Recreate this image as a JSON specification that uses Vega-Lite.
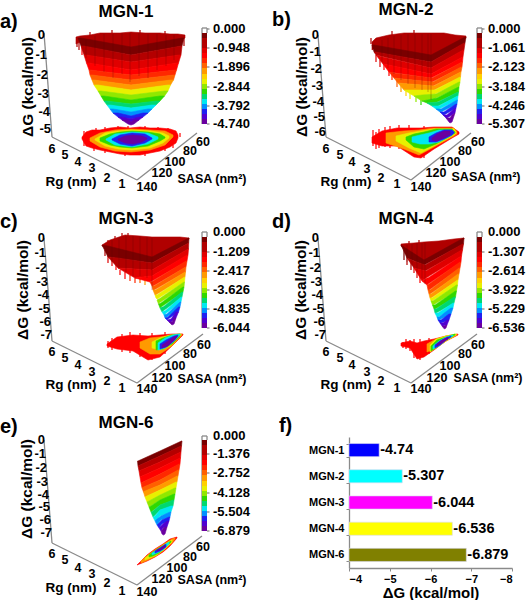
{"$schema":"https://vega.github.io/schema/vega-lite/v6.json","padding":0,"spacing":0,"columns":2,"bounds":"flush","background":"white","config":{"view":{"stroke":null},"text":{"font":"Liberation Sans","fontWeight":"bold","color":"#000"},"concat":{"spacing":0}},
"datasets":{
"cba":[{"l":0,"u":202,"p":207,"v":33,"w":38},{"l":1,"u":202,"p":207,"v":38,"w":43},{"l":2,"u":202,"p":207,"v":43,"w":48},{"l":3,"u":202,"p":207,"v":48,"w":53},{"l":4,"u":202,"p":207,"v":53,"w":58},{"l":5,"u":202,"p":207,"v":58,"w":63},{"l":6,"u":202,"p":207,"v":63,"w":68},{"l":7,"u":202,"p":207,"v":68,"w":74},{"l":8,"u":202,"p":207,"v":74,"w":79},{"l":9,"u":202,"p":207,"v":79,"w":84},{"l":10,"u":202,"p":207,"v":84,"w":89},{"l":11,"u":202,"p":207,"v":89,"w":94},{"l":12,"u":202,"p":207,"v":94,"w":99},{"l":13,"u":202,"p":207,"v":99,"w":104},{"l":14,"u":202,"p":207,"v":104,"w":109},{"l":15,"u":202,"p":207,"v":109,"w":114},{"l":16,"u":202,"p":207,"v":114,"w":119},{"l":17,"u":202,"p":207,"v":119,"w":124}],
"cbb":[{"l":0,"u":213,"p":218,"v":33,"w":38},{"l":1,"u":213,"p":218,"v":38,"w":43},{"l":2,"u":213,"p":218,"v":43,"w":48},{"l":3,"u":213,"p":218,"v":48,"w":53},{"l":4,"u":213,"p":218,"v":53,"w":58},{"l":5,"u":213,"p":218,"v":58,"w":63},{"l":6,"u":213,"p":218,"v":63,"w":68},{"l":7,"u":213,"p":218,"v":68,"w":74},{"l":8,"u":213,"p":218,"v":74,"w":79},{"l":9,"u":213,"p":218,"v":79,"w":84},{"l":10,"u":213,"p":218,"v":84,"w":89},{"l":11,"u":213,"p":218,"v":89,"w":94},{"l":12,"u":213,"p":218,"v":94,"w":99},{"l":13,"u":213,"p":218,"v":99,"w":104},{"l":14,"u":213,"p":218,"v":104,"w":109},{"l":15,"u":213,"p":218,"v":109,"w":114},{"l":16,"u":213,"p":218,"v":114,"w":119},{"l":17,"u":213,"p":218,"v":119,"w":124}],
"cbc":[{"l":0,"u":202,"p":207,"v":37,"w":42},{"l":1,"u":202,"p":207,"v":42,"w":47},{"l":2,"u":202,"p":207,"v":47,"w":52},{"l":3,"u":202,"p":207,"v":52,"w":57},{"l":4,"u":202,"p":207,"v":57,"w":62},{"l":5,"u":202,"p":207,"v":62,"w":67},{"l":6,"u":202,"p":207,"v":67,"w":72},{"l":7,"u":202,"p":207,"v":72,"w":78},{"l":8,"u":202,"p":207,"v":78,"w":83},{"l":9,"u":202,"p":207,"v":83,"w":88},{"l":10,"u":202,"p":207,"v":88,"w":93},{"l":11,"u":202,"p":207,"v":93,"w":98},{"l":12,"u":202,"p":207,"v":98,"w":103},{"l":13,"u":202,"p":207,"v":103,"w":108},{"l":14,"u":202,"p":207,"v":108,"w":113},{"l":15,"u":202,"p":207,"v":113,"w":118},{"l":16,"u":202,"p":207,"v":118,"w":123},{"l":17,"u":202,"p":207,"v":123,"w":128}],
"cbd":[{"l":0,"u":213,"p":218,"v":37,"w":42},{"l":1,"u":213,"p":218,"v":42,"w":47},{"l":2,"u":213,"p":218,"v":47,"w":52},{"l":3,"u":213,"p":218,"v":52,"w":57},{"l":4,"u":213,"p":218,"v":57,"w":62},{"l":5,"u":213,"p":218,"v":62,"w":67},{"l":6,"u":213,"p":218,"v":67,"w":72},{"l":7,"u":213,"p":218,"v":72,"w":78},{"l":8,"u":213,"p":218,"v":78,"w":83},{"l":9,"u":213,"p":218,"v":83,"w":88},{"l":10,"u":213,"p":218,"v":88,"w":93},{"l":11,"u":213,"p":218,"v":93,"w":98},{"l":12,"u":213,"p":218,"v":98,"w":103},{"l":13,"u":213,"p":218,"v":103,"w":108},{"l":14,"u":213,"p":218,"v":108,"w":113},{"l":15,"u":213,"p":218,"v":113,"w":118},{"l":16,"u":213,"p":218,"v":118,"w":123},{"l":17,"u":213,"p":218,"v":123,"w":128}],
"cbe":[{"l":0,"u":202,"p":207,"v":40,"w":45},{"l":1,"u":202,"p":207,"v":45,"w":50},{"l":2,"u":202,"p":207,"v":50,"w":55},{"l":3,"u":202,"p":207,"v":55,"w":60},{"l":4,"u":202,"p":207,"v":60,"w":65},{"l":5,"u":202,"p":207,"v":65,"w":70},{"l":6,"u":202,"p":207,"v":70,"w":75},{"l":7,"u":202,"p":207,"v":75,"w":81},{"l":8,"u":202,"p":207,"v":81,"w":86},{"l":9,"u":202,"p":207,"v":86,"w":91},{"l":10,"u":202,"p":207,"v":91,"w":96},{"l":11,"u":202,"p":207,"v":96,"w":101},{"l":12,"u":202,"p":207,"v":101,"w":106},{"l":13,"u":202,"p":207,"v":106,"w":111},{"l":14,"u":202,"p":207,"v":111,"w":116},{"l":15,"u":202,"p":207,"v":116,"w":121},{"l":16,"u":202,"p":207,"v":121,"w":126},{"l":17,"u":202,"p":207,"v":126,"w":131}],
"xa":[{"u":86,"v":40,"q":58},{"u":95,"v":36,"q":66},{"u":104,"v":34,"q":72},{"u":113,"v":34,"q":78},{"u":122,"v":33,"q":74},{"u":130,"v":33,"q":82},{"u":139,"v":33,"q":76},{"u":148,"v":34,"q":78},{"u":157,"v":34,"q":70},{"u":166,"v":35,"q":66},{"u":174,"v":35,"q":60}],
"xb":[{"u":118,"v":40,"q":62},{"u":124,"v":38,"q":68},{"u":130,"v":36,"q":74},{"u":137,"v":35,"q":80},{"u":144,"v":34,"q":84},{"u":151,"v":34,"q":88},{"u":158,"v":34,"q":90},{"u":164,"v":34,"q":92},{"u":167,"v":34,"q":100}],
"xc":[{"u":112,"v":40,"q":62},{"u":119,"v":37,"q":68},{"u":126,"v":36,"q":72},{"u":133,"v":36,"q":76},{"u":140,"v":37,"q":76},{"u":147,"v":37,"q":78},{"u":152,"v":38,"q":90}],
"xd":[{"u":143,"v":45,"q":62},{"u":148,"v":44,"q":66},{"u":153,"v":43,"q":72},{"u":158,"v":43,"q":78},{"u":161,"v":43,"q":84}],
"da":[{"l":1,"u":90,"v":32,"q":36},{"l":1,"u":112,"v":30,"q":35},{"l":1,"u":140,"v":30,"q":34},{"l":1,"u":165,"v":31,"q":36},{"l":1,"u":77,"v":37,"q":47},{"l":1,"u":79,"v":40,"q":50},{"l":1,"u":184,"v":37,"q":46},{"l":4,"u":82,"v":45,"q":55},{"l":4,"u":84,"v":131,"q":146},{"l":4,"u":96,"v":128,"q":131},{"l":4,"u":105,"v":127,"q":130},{"l":4,"u":118,"v":126,"q":129},{"l":4,"u":128,"v":126,"q":129},{"l":4,"u":145,"v":126,"q":129},{"l":4,"u":158,"v":127,"q":130},{"l":4,"u":168,"v":128,"q":131},{"l":4,"u":94,"v":148,"q":151},{"l":4,"u":105,"v":150,"q":153},{"l":4,"u":125,"v":153,"q":156},{"l":4,"u":145,"v":153,"q":156},{"l":4,"u":165,"v":148,"q":151},{"l":4,"u":173,"v":145,"q":148},{"l":4,"u":180,"v":133,"q":137}],
"db":[{"l":1,"u":107,"v":38,"q":44},{"l":1,"u":128,"v":31,"q":36},{"l":1,"u":150,"v":30,"q":35},{"l":3,"u":112,"v":55,"q":62},{"l":3,"u":116,"v":60,"q":67},{"l":4,"u":120,"v":64,"q":70},{"l":4,"u":125,"v":70,"q":76},{"l":5,"u":128,"v":72,"q":80},{"l":6,"u":133,"v":80,"q":87},{"l":7,"u":137,"v":85,"q":92},{"l":8,"u":142,"v":90,"q":96},{"l":9,"u":146,"v":92,"q":99},{"l":10,"u":152,"v":97,"q":102},{"l":11,"u":157,"v":100,"q":105},{"l":4,"u":109,"v":130,"q":146},{"l":4,"u":112,"v":132,"q":149},{"l":4,"u":115,"v":129,"q":148},{"l":4,"u":121,"v":127,"q":147},{"l":4,"u":126,"v":126,"q":148},{"l":4,"u":135,"v":125,"q":149},{"l":4,"u":145,"v":125,"q":153},{"l":4,"u":160,"v":126,"q":158}],
"dc":[{"l":1,"u":128,"v":33,"q":37},{"l":1,"u":122,"v":33,"q":37},{"l":1,"u":115,"v":36,"q":40},{"l":1,"u":108,"v":40,"q":44},{"l":2,"u":105,"v":50,"q":56},{"l":3,"u":108,"v":55,"q":63},{"l":3,"u":112,"v":60,"q":66},{"l":4,"u":116,"v":65,"q":70},{"l":4,"u":120,"v":70,"q":75},{"l":4,"u":125,"v":72,"q":79},{"l":5,"u":130,"v":75,"q":81},{"l":5,"u":135,"v":78,"q":83},{"l":6,"u":140,"v":78,"q":83},{"l":7,"u":145,"v":80,"q":85},{"l":4,"u":108,"v":141,"q":148},{"l":4,"u":112,"v":138,"q":150},{"l":4,"u":122,"v":134,"q":152},{"l":4,"u":130,"v":132,"q":153},{"l":4,"u":140,"v":133,"q":157},{"l":4,"u":152,"v":133,"q":160},{"l":4,"u":165,"v":132,"q":154}],
"dd":[{"l":1,"u":145,"v":41,"q":45},{"l":1,"u":155,"v":40,"q":44},{"l":0,"u":140,"v":50,"q":60},{"l":2,"u":143,"v":55,"q":65},{"l":2,"u":147,"v":62,"q":70},{"l":3,"u":150,"v":65,"q":73},{"l":3,"u":153,"v":70,"q":78},{"l":4,"u":156,"v":75,"q":83},{"l":4,"u":139,"v":142,"q":148},{"l":4,"u":142,"v":139,"q":149},{"l":4,"u":146,"v":140,"q":151},{"l":4,"u":150,"v":139,"q":158},{"l":4,"u":156,"v":139,"q":160},{"l":4,"u":165,"v":138,"q":154}],
"ra":[{"u":44,"v":33,"p":52,"q":137},{"u":52,"v":137,"p":137,"q":180},{"u":137,"v":180,"p":197,"q":133},{"u":202,"v":28,"p":207,"q":28},{"u":202,"v":28,"p":202,"q":124},{"u":207,"v":28,"p":207,"q":33},{"u":207,"v":29,"p":209.5,"q":29},{"u":207,"v":48,"p":209.5,"q":48},{"u":207,"v":67,"p":209.5,"q":67},{"u":207,"v":87,"p":209.5,"q":87},{"u":207,"v":106,"p":209.5,"q":106},{"u":207,"v":124,"p":209.5,"q":124}],
"rb":[{"u":54,"v":35,"p":62,"q":137},{"u":62,"v":137,"p":147,"q":180},{"u":147,"v":180,"p":207,"q":133},{"u":213,"v":28,"p":218,"q":28},{"u":213,"v":28,"p":213,"q":124},{"u":218,"v":28,"p":218,"q":33},{"u":218,"v":29,"p":220.5,"q":29},{"u":218,"v":48,"p":220.5,"q":48},{"u":218,"v":67,"p":220.5,"q":67},{"u":218,"v":87,"p":220.5,"q":87},{"u":218,"v":106,"p":220.5,"q":106},{"u":218,"v":124,"p":220.5,"q":124}],
"rc":[{"u":44,"v":38,"p":52,"q":141},{"u":52,"v":141,"p":137,"q":183},{"u":137,"v":183,"p":203,"q":134},{"u":202,"v":32,"p":207,"q":32},{"u":202,"v":32,"p":202,"q":128},{"u":207,"v":32,"p":207,"q":37},{"u":207,"v":52,"p":209.5,"q":52},{"u":207,"v":71,"p":209.5,"q":71},{"u":207,"v":90,"p":209.5,"q":90},{"u":207,"v":109,"p":209.5,"q":109},{"u":207,"v":128,"p":209.5,"q":128}],
"rd":[{"u":54,"v":38,"p":62,"q":141},{"u":62,"v":141,"p":147,"q":183},{"u":147,"v":183,"p":213,"q":134},{"u":213,"v":32,"p":218,"q":32},{"u":213,"v":32,"p":213,"q":128},{"u":218,"v":32,"p":218,"q":37},{"u":218,"v":52,"p":220.5,"q":52},{"u":218,"v":71,"p":220.5,"q":71},{"u":218,"v":90,"p":220.5,"q":90},{"u":218,"v":109,"p":220.5,"q":109},{"u":218,"v":128,"p":220.5,"q":128}],
"re":[{"u":44,"v":40,"p":52,"q":143},{"u":52,"v":143,"p":137,"q":185},{"u":137,"v":185,"p":202,"q":136},{"u":202,"v":36,"p":207,"q":36},{"u":202,"v":36,"p":202,"q":131},{"u":207,"v":36,"p":207,"q":40},{"u":207,"v":54,"p":209.5,"q":54},{"u":207,"v":73,"p":209.5,"q":73},{"u":207,"v":93,"p":209.5,"q":93},{"u":207,"v":112,"p":209.5,"q":112},{"u":207,"v":131,"p":209.5,"q":131}],
"sa":[{"l":1,"u":76,"v":37,"w":44},{"l":1,"u":80,"v":36,"w":42},{"l":1,"u":90,"v":35,"w":44},{"l":1,"u":100,"v":33,"w":46},{"l":1,"u":110,"v":33,"w":46},{"l":1,"u":120,"v":33,"w":47},{"l":1,"u":131,"v":32,"w":47},{"l":1,"u":145,"v":33,"w":47},{"l":1,"u":160,"v":33,"w":45},{"l":1,"u":170,"v":34,"w":42},{"l":1,"u":178,"v":34,"w":40},{"l":1,"u":185,"v":35,"w":38},
{"l":0,"u":78,"v":38,"w":38},{"l":0,"u":81,"v":38,"w":46},{"l":0,"u":131,"v":47,"w":55},{"l":0,"u":182,"v":38,"w":46},{"l":0,"u":184,"v":38,"w":38},
{"l":2,"u":81,"v":46,"w":46},{"l":2,"u":84,"v":46,"w":55},{"l":2,"u":131,"v":55,"w":62},{"l":2,"u":181,"v":46,"w":55},{"l":2,"u":182,"v":46,"w":46},
{"l":3,"u":84,"v":55,"w":55},{"l":3,"u":86.5,"v":55,"w":63},{"l":3,"u":131,"v":62,"w":70},{"l":3,"u":178.5,"v":55,"w":63},{"l":3,"u":181,"v":55,"w":55},
{"l":4,"u":86.5,"v":63,"w":63},{"l":4,"u":89,"v":63,"w":70},{"l":4,"u":131,"v":70,"w":75},{"l":4,"u":176.5,"v":63,"w":70},{"l":4,"u":178.5,"v":63,"w":63},
{"l":5,"u":89,"v":70,"w":70},{"l":5,"u":90,"v":70,"w":75},{"l":5,"u":131,"v":75,"w":80},{"l":5,"u":175,"v":70,"w":75},{"l":5,"u":176.5,"v":70,"w":70},
{"l":6,"u":90,"v":75,"w":75},{"l":6,"u":92,"v":75,"w":80},{"l":6,"u":131,"v":80,"w":85},{"l":6,"u":173.5,"v":75,"w":80},{"l":6,"u":175,"v":75,"w":75},
{"l":7,"u":92,"v":80,"w":80},{"l":7,"u":94,"v":80,"w":85},{"l":7,"u":131,"v":85,"w":90},{"l":7,"u":170.5,"v":80,"w":85},{"l":7,"u":173.5,"v":80,"w":80},
{"l":9,"u":94,"v":85,"w":85},{"l":9,"u":98,"v":85,"w":91},{"l":9,"u":131,"v":90,"w":95},{"l":9,"u":168,"v":85,"w":91},{"l":9,"u":170.5,"v":85,"w":85},
{"l":10,"u":98,"v":91,"w":91},{"l":10,"u":101,"v":91,"w":96},{"l":10,"u":131,"v":95,"w":100},{"l":10,"u":164.5,"v":91,"w":96},{"l":10,"u":168,"v":91,"w":91},
{"l":11,"u":101,"v":96,"w":96},{"l":11,"u":104,"v":96,"w":101},{"l":11,"u":131,"v":100,"w":104},{"l":11,"u":160,"v":96,"w":101},{"l":11,"u":164.5,"v":96,"w":96},
{"l":12,"u":104,"v":101,"w":101},{"l":12,"u":107,"v":101,"w":105},{"l":12,"u":131,"v":104,"w":108},{"l":12,"u":156,"v":101,"w":105},{"l":12,"u":160,"v":101,"w":101},
{"l":13,"u":107,"v":105,"w":105},{"l":13,"u":110,"v":105,"w":109},{"l":13,"u":131,"v":108,"w":112},{"l":13,"u":152,"v":105,"w":109},{"l":13,"u":156,"v":105,"w":105},
{"l":14,"u":110,"v":109,"w":109},{"l":14,"u":113,"v":109,"w":113},{"l":14,"u":131,"v":112,"w":116},{"l":14,"u":148,"v":109,"w":113},{"l":14,"u":152,"v":109,"w":109},
{"l":15,"u":113,"v":113,"w":113},{"l":15,"u":118,"v":113,"w":117},{"l":15,"u":131,"v":116,"w":119},{"l":15,"u":143,"v":113,"w":117},{"l":15,"u":148,"v":113,"w":113},
{"l":16,"u":118,"v":117,"w":117},{"l":16,"u":122,"v":117,"w":120},{"l":16,"u":131,"v":119,"w":122},{"l":16,"u":139,"v":117,"w":120},{"l":16,"u":143,"v":117,"w":117},
{"l":17,"u":122,"v":120,"w":120},{"l":17,"u":128,"v":120,"w":124},{"l":17,"u":131,"v":122,"w":125},{"l":17,"u":134,"v":120,"w":124},{"l":17,"u":139,"v":120,"w":120}],
"sb":[{"l":1,"u":108,"v":42,"w":50},{"l":1,"u":112,"v":38,"w":47},{"l":1,"u":125,"v":35,"w":50},{"l":1,"u":140,"v":33,"w":53},{"l":1,"u":155,"v":33,"w":54},{"l":1,"u":167,"v":33,"w":56},{"l":1,"u":180,"v":33,"w":51},{"l":1,"u":191,"v":35,"w":46},{"l":1,"u":202,"v":36,"w":38},
{"l":0,"u":108,"v":45,"w":45},{"l":0,"u":110,"v":45,"w":52},{"l":0,"u":167,"v":55,"w":62},{"l":0,"u":201,"v":37,"w":43},{"l":0,"u":202,"v":37,"w":37},
{"l":2,"u":110,"v":52,"w":52},{"l":2,"u":112,"v":52,"w":55},{"l":2,"u":167,"v":62,"w":68},{"l":2,"u":200,"v":43,"w":50},{"l":2,"u":201,"v":43,"w":43},
{"l":3,"u":112,"v":55,"w":55},{"l":3,"u":119,"v":57,"w":64},{"l":3,"u":167,"v":68,"w":74},{"l":3,"u":199,"v":50,"w":57},{"l":3,"u":200,"v":50,"w":50},
{"l":4,"u":119,"v":64,"w":64},{"l":4,"u":125,"v":65,"w":72},{"l":4,"u":167,"v":74,"w":78},{"l":4,"u":198.5,"v":57,"w":62},{"l":4,"u":199,"v":57,"w":57},
{"l":5,"u":125,"v":72,"w":72},{"l":5,"u":130,"v":73,"w":78},{"l":5,"u":168,"v":78,"w":82},{"l":5,"u":198,"v":62,"w":67},{"l":5,"u":198.5,"v":62,"w":62},
{"l":6,"u":130,"v":78,"w":78},{"l":6,"u":134,"v":78.5,"w":83},{"l":6,"u":169,"v":82,"w":86},{"l":6,"u":197,"v":67,"w":72},{"l":6,"u":198,"v":67,"w":67},
{"l":7,"u":134,"v":83,"w":83},{"l":7,"u":140,"v":83.5,"w":90},{"l":7,"u":170,"v":86,"w":90},{"l":7,"u":196.5,"v":72,"w":77},{"l":7,"u":197,"v":72,"w":72},
{"l":9,"u":140,"v":90,"w":90},{"l":9,"u":150,"v":90,"w":96},{"l":9,"u":171,"v":90,"w":94},{"l":9,"u":196,"v":77,"w":82},{"l":9,"u":196.5,"v":77,"w":77},
{"l":10,"u":150,"v":96,"w":96},{"l":10,"u":158,"v":95,"w":101},{"l":10,"u":172,"v":94,"w":98},{"l":10,"u":195,"v":82,"w":87},{"l":10,"u":196,"v":82,"w":82},
{"l":11,"u":158,"v":101,"w":101},{"l":11,"u":163,"v":100,"w":103},{"l":11,"u":173,"v":98,"w":102},{"l":11,"u":194.5,"v":87,"w":92},{"l":11,"u":195,"v":87,"w":87},
{"l":12,"u":163,"v":103,"w":103},{"l":12,"u":168,"v":102.5,"w":106},{"l":12,"u":174,"v":102,"w":106},{"l":12,"u":194,"v":92,"w":96},{"l":12,"u":194.5,"v":92,"w":92},
{"l":13,"u":168,"v":106,"w":106},{"l":13,"u":172,"v":106,"w":109},{"l":13,"u":175,"v":106,"w":109},{"l":13,"u":193.5,"v":96,"w":100},{"l":13,"u":194,"v":96,"w":96},
{"l":14,"u":172,"v":109,"w":109},{"l":14,"u":176,"v":109,"w":112},{"l":14,"u":177,"v":109,"w":112},{"l":14,"u":193,"v":100,"w":104},{"l":14,"u":193.5,"v":100,"w":100},
{"l":15,"u":176,"v":112,"w":112},{"l":15,"u":179,"v":112,"w":115},{"l":15,"u":180,"v":112,"w":115},{"l":15,"u":192,"v":104,"w":108},{"l":15,"u":193,"v":104,"w":104},
{"l":16,"u":179,"v":115,"w":115},{"l":16,"u":182,"v":115,"w":118},{"l":16,"u":183,"v":115,"w":118},{"l":16,"u":191,"v":108,"w":113},{"l":16,"u":192,"v":108,"w":108},
{"l":17,"u":182,"v":118,"w":118},{"l":17,"u":185,"v":118,"w":122},{"l":17,"u":186,"v":118,"w":123},{"l":17,"u":188,"v":115,"w":122},{"l":17,"u":191,"v":113,"w":113}],
"sc":[{"l":1,"u":102,"v":45,"w":46},{"l":1,"u":110,"v":40,"w":49},{"l":1,"u":125,"v":35,"w":53},{"l":1,"u":140,"v":36,"w":55},{"l":1,"u":152,"v":37,"w":58},{"l":1,"u":165,"v":37,"w":53},{"l":1,"u":180,"v":37,"w":46},{"l":1,"u":189,"v":38,"w":39},
{"l":0,"u":102,"v":45,"w":45},{"l":0,"u":108,"v":46,"w":57},{"l":0,"u":152,"v":57,"w":63},{"l":0,"u":188.7,"v":38,"w":43},{"l":0,"u":189,"v":38,"w":38},
{"l":2,"u":108,"v":57,"w":57},{"l":2,"u":118,"v":58,"w":68},{"l":2,"u":152,"v":63,"w":70},{"l":2,"u":188.5,"v":43,"w":49},{"l":2,"u":188.7,"v":43,"w":43},
{"l":3,"u":118,"v":68,"w":68},{"l":3,"u":135,"v":69,"w":78},{"l":3,"u":152,"v":70,"w":76},{"l":3,"u":188,"v":49,"w":55},{"l":3,"u":188.5,"v":49,"w":49},
{"l":4,"u":135,"v":78,"w":78},{"l":4,"u":150,"v":76,"w":82},{"l":4,"u":152,"v":76,"w":81},{"l":4,"u":187,"v":55,"w":61},{"l":4,"u":188,"v":55,"w":55},
{"l":5,"u":150,"v":82,"w":82},{"l":5,"u":152,"v":81.5,"w":86},{"l":5,"u":153,"v":81,"w":86},{"l":5,"u":186,"v":61,"w":67},{"l":5,"u":187,"v":61,"w":61},
{"l":6,"u":152,"v":86,"w":86},{"l":6,"u":153,"v":86,"w":90},{"l":6,"u":154,"v":86,"w":90},{"l":6,"u":185.5,"v":67,"w":72},{"l":6,"u":186,"v":67,"w":67},
{"l":7,"u":153,"v":90,"w":90},{"l":7,"u":155,"v":90,"w":95},{"l":7,"u":155.5,"v":90,"w":95},{"l":7,"u":185,"v":72,"w":77},{"l":7,"u":185.5,"v":72,"w":72},
{"l":9,"u":155,"v":95,"w":95},{"l":9,"u":156,"v":95,"w":98},{"l":9,"u":157,"v":95,"w":99},{"l":9,"u":184.5,"v":77,"w":82},{"l":9,"u":185,"v":77,"w":77},
{"l":10,"u":157,"v":100,"w":100},{"l":10,"u":158.5,"v":99,"w":104},{"l":10,"u":159,"v":99,"w":103},{"l":10,"u":184,"v":82,"w":87},{"l":10,"u":184.5,"v":82,"w":82},
{"l":11,"u":158.5,"v":104,"w":104},{"l":11,"u":160,"v":103.5,"w":108},{"l":11,"u":161,"v":103,"w":107},{"l":11,"u":183,"v":87,"w":92},{"l":11,"u":184,"v":87,"w":87},
{"l":12,"u":160,"v":108,"w":108},{"l":12,"u":162,"v":107,"w":112},{"l":12,"u":163,"v":107,"w":111},{"l":12,"u":182,"v":92,"w":97},{"l":12,"u":183,"v":92,"w":92},
{"l":13,"u":162,"v":112,"w":112},{"l":13,"u":164,"v":111,"w":115},{"l":13,"u":165,"v":111,"w":114},{"l":13,"u":181,"v":97,"w":102},{"l":13,"u":182,"v":97,"w":97},
{"l":14,"u":164,"v":115,"w":115},{"l":14,"u":165,"v":114.5,"w":118},{"l":14,"u":167,"v":114,"w":117},{"l":14,"u":180,"v":102,"w":107},{"l":14,"u":181,"v":102,"w":102},
{"l":15,"u":165,"v":118,"w":118},{"l":15,"u":167,"v":117.5,"w":120},{"l":15,"u":168,"v":117,"w":119},{"l":15,"u":178.5,"v":107,"w":112},{"l":15,"u":180,"v":107,"w":107},
{"l":16,"u":167,"v":120,"w":120},{"l":16,"u":169,"v":119.5,"w":122},{"l":16,"u":171,"v":119,"w":122},{"l":16,"u":176,"v":112,"w":118},{"l":16,"u":178.5,"v":112,"w":112},
{"l":17,"u":169,"v":122,"w":122},{"l":17,"u":171,"v":122,"w":124},{"l":17,"u":172,"v":122,"w":125},{"l":17,"u":174,"v":118,"w":124},{"l":17,"u":176,"v":118,"w":118}],
"sd":[{"l":1,"u":137,"v":44,"w":46},{"l":1,"u":143,"v":43.5,"w":51},{"l":1,"u":150,"v":43,"w":56},{"l":1,"u":160,"v":42,"w":62},{"l":1,"u":175,"v":41,"w":54},{"l":1,"u":190,"v":39,"w":46},{"l":1,"u":200,"v":38,"w":39},
{"l":0,"u":137,"v":45,"w":45},{"l":0,"u":143,"v":49,"w":58},{"l":0,"u":160,"v":60,"w":65},{"l":0,"u":199.5,"v":38,"w":44},{"l":0,"u":200,"v":38,"w":38},
{"l":2,"u":143,"v":58,"w":58},{"l":2,"u":150,"v":61,"w":68},{"l":2,"u":161,"v":65,"w":71},{"l":2,"u":198.5,"v":44,"w":50},{"l":2,"u":199.5,"v":44,"w":44},
{"l":3,"u":150,"v":68,"w":68},{"l":3,"u":158,"v":70,"w":81},{"l":3,"u":162,"v":71,"w":78},{"l":3,"u":197.5,"v":50,"w":56},{"l":3,"u":198.5,"v":50,"w":50},
{"l":4,"u":158,"v":81,"w":81},{"l":4,"u":163,"v":78,"w":85},{"l":4,"u":164,"v":78,"w":84},{"l":4,"u":197,"v":56,"w":62},{"l":4,"u":197.5,"v":56,"w":56},
{"l":5,"u":163,"v":85,"w":85},{"l":5,"u":164,"v":84.5,"w":90},{"l":5,"u":165,"v":84,"w":90},{"l":5,"u":196,"v":62,"w":68},{"l":5,"u":197,"v":62,"w":62},
{"l":6,"u":164,"v":90,"w":90},{"l":6,"u":165,"v":90,"w":94},{"l":6,"u":166,"v":90,"w":94},{"l":6,"u":195,"v":68,"w":74},{"l":6,"u":196,"v":68,"w":68},
{"l":7,"u":165,"v":94,"w":94},{"l":7,"u":166,"v":94,"w":98},{"l":7,"u":167,"v":94,"w":98},{"l":7,"u":194,"v":74,"w":80},{"l":7,"u":195,"v":74,"w":74},
{"l":9,"u":166,"v":98,"w":98},{"l":9,"u":167,"v":98,"w":101},{"l":9,"u":168,"v":98,"w":101},{"l":9,"u":193.5,"v":80,"w":85},{"l":9,"u":194,"v":80,"w":80},
{"l":10,"u":167,"v":101,"w":101},{"l":10,"u":168.5,"v":101,"w":105},{"l":10,"u":169,"v":101,"w":105},{"l":10,"u":192.5,"v":85,"w":91},{"l":10,"u":193.5,"v":85,"w":85},
{"l":11,"u":168.5,"v":105,"w":105},{"l":11,"u":170,"v":105,"w":109},{"l":11,"u":171,"v":105,"w":109},{"l":11,"u":191.5,"v":91,"w":97},{"l":11,"u":192.5,"v":91,"w":91},
{"l":12,"u":170,"v":109,"w":109},{"l":12,"u":171,"v":109,"w":113},{"l":12,"u":172,"v":109,"w":113},{"l":12,"u":190,"v":97,"w":103},{"l":12,"u":191.5,"v":97,"w":97},
{"l":13,"u":171,"v":113,"w":113},{"l":13,"u":173,"v":113,"w":117},{"l":13,"u":174,"v":113,"w":117},{"l":13,"u":189,"v":103,"w":108},{"l":13,"u":190,"v":103,"w":103},
{"l":14,"u":173,"v":117,"w":117},{"l":14,"u":174,"v":117,"w":120},{"l":14,"u":175,"v":117,"w":120},{"l":14,"u":187,"v":108,"w":114},{"l":14,"u":189,"v":108,"w":108},
{"l":15,"u":174,"v":120,"w":120},{"l":15,"u":176,"v":120,"w":123},{"l":15,"u":177,"v":120,"w":123},{"l":15,"u":185,"v":114,"w":120},{"l":15,"u":187,"v":114,"w":114},
{"l":16,"u":176,"v":123,"w":123},{"l":16,"u":178,"v":123,"w":126},{"l":16,"u":179,"v":123,"w":126},{"l":16,"u":183,"v":120,"w":125},{"l":16,"u":185,"v":120,"w":120},
{"l":17,"u":178,"v":126,"w":126},{"l":17,"u":179.5,"v":126,"w":128},{"l":17,"u":180.5,"v":126,"w":129},{"l":17,"u":182,"v":125,"w":128},{"l":17,"u":183,"v":125,"w":125}],
"se":[{"l":0,"u":137.5,"v":61,"w":61},{"l":0,"u":138,"v":61,"w":66},{"l":0,"u":160,"v":51,"w":56},{"l":0,"u":181.5,"v":41,"w":46},{"l":0,"u":182,"v":41,"w":41},
{"l":2,"u":138,"v":66,"w":66},{"l":2,"u":139,"v":65.5,"w":71},{"l":2,"u":160,"v":56,"w":62},{"l":2,"u":181,"v":46,"w":52},{"l":2,"u":181.5,"v":46,"w":46},
{"l":3,"u":139,"v":71,"w":71},{"l":3,"u":140,"v":70.5,"w":77},{"l":3,"u":160,"v":62,"w":68},{"l":3,"u":180.5,"v":52,"w":58},{"l":3,"u":181,"v":52,"w":52},
{"l":4,"u":140,"v":77,"w":77},{"l":4,"u":141,"v":76.5,"w":83},{"l":4,"u":160,"v":68,"w":74},{"l":4,"u":180,"v":58,"w":64},{"l":4,"u":180.5,"v":58,"w":58},
{"l":5,"u":141,"v":83,"w":83},{"l":5,"u":142,"v":82.5,"w":88},{"l":5,"u":160,"v":74,"w":80},{"l":5,"u":179,"v":64,"w":70},{"l":5,"u":180,"v":64,"w":64},
{"l":6,"u":142,"v":88,"w":88},{"l":6,"u":143.5,"v":87,"w":92},{"l":6,"u":160,"v":80,"w":85},{"l":6,"u":178,"v":70,"w":76},{"l":6,"u":179,"v":70,"w":70},
{"l":7,"u":143.5,"v":92,"w":92},{"l":7,"u":145,"v":91,"w":97},{"l":7,"u":160,"v":85,"w":90},{"l":7,"u":177,"v":76,"w":82},{"l":7,"u":178,"v":76,"w":76},
{"l":9,"u":145,"v":97,"w":97},{"l":9,"u":147,"v":96,"w":102},{"l":9,"u":160,"v":90,"w":95},{"l":9,"u":176,"v":82,"w":88},{"l":9,"u":177,"v":82,"w":82},
{"l":10,"u":147,"v":102,"w":102},{"l":10,"u":149,"v":101,"w":107},{"l":10,"u":160,"v":95,"w":100},{"l":10,"u":175,"v":88,"w":94},{"l":10,"u":176,"v":88,"w":88},
{"l":11,"u":149,"v":107,"w":107},{"l":11,"u":151,"v":106,"w":112},{"l":11,"u":160,"v":100,"w":105},{"l":11,"u":174,"v":94,"w":100},{"l":11,"u":175,"v":94,"w":94},
{"l":12,"u":151,"v":112,"w":112},{"l":12,"u":153,"v":111,"w":117},{"l":12,"u":160,"v":105,"w":110},{"l":12,"u":173,"v":100,"w":106},{"l":12,"u":174,"v":100,"w":100},
{"l":13,"u":153,"v":117,"w":117},{"l":13,"u":155,"v":116,"w":121},{"l":13,"u":160,"v":110,"w":116},{"l":13,"u":171,"v":106,"w":112},{"l":13,"u":173,"v":106,"w":106},
{"l":14,"u":155,"v":121,"w":121},{"l":14,"u":157,"v":119,"w":125},{"l":14,"u":161,"v":116,"w":120},{"l":14,"u":170,"v":112,"w":117},{"l":14,"u":171,"v":112,"w":112},
{"l":15,"u":157,"v":125,"w":125},{"l":15,"u":159,"v":123,"w":128},{"l":15,"u":162,"v":120,"w":124},{"l":15,"u":169,"v":117,"w":121},{"l":15,"u":170,"v":117,"w":117},
{"l":16,"u":159,"v":128,"w":128},{"l":16,"u":161,"v":126,"w":131},{"l":16,"u":163,"v":124,"w":128},{"l":16,"u":167,"v":121,"w":127},{"l":16,"u":169,"v":121,"w":121},
{"l":17,"u":161,"v":131,"w":131},{"l":17,"u":162,"v":130,"w":134},{"l":17,"u":163.5,"v":128,"w":135},{"l":17,"u":165,"v":127,"w":134},{"l":17,"u":167,"v":127,"w":127}],
"fa":[{"l":4,"u":82,"v":137,"w":139},{"l":4,"u":86,"v":132,"w":146},{"l":4,"u":92,"v":130,"w":148},{"l":4,"u":100,"v":130,"w":150},{"l":4,"u":110,"v":128,"w":152},{"l":4,"u":120,"v":127,"w":154},{"l":4,"u":130,"v":128,"w":155},{"l":4,"u":140,"v":127,"w":155},{"l":4,"u":150,"v":128,"w":153},{"l":4,"u":160,"v":128,"w":151},{"l":4,"u":170,"v":129,"w":147},{"l":4,"u":176,"v":131,"w":143},{"l":4,"u":178,"v":135,"w":138},
{"l":7,"u":90,"v":138,"w":141},{"l":7,"u":100,"v":133,"w":147},{"l":7,"u":115,"v":130,"w":151},{"l":7,"u":131,"v":129,"w":152},{"l":7,"u":150,"v":130,"w":150},{"l":7,"u":165,"v":131,"w":145},{"l":7,"u":173,"v":135,"w":137},
{"l":9,"u":95,"v":139,"w":140},{"l":9,"u":105,"v":133,"w":146},{"l":9,"u":118,"v":131,"w":149},{"l":9,"u":132,"v":130,"w":150},{"l":9,"u":150,"v":131,"w":148},{"l":9,"u":163,"v":133,"w":143},{"l":9,"u":169,"v":136,"w":138},
{"l":11,"u":100,"v":138,"w":141},{"l":11,"u":110,"v":134,"w":145},{"l":11,"u":120,"v":132,"w":147},{"l":11,"u":132,"v":131,"w":148},{"l":11,"u":148,"v":132,"w":146},{"l":11,"u":160,"v":134,"w":141},{"l":11,"u":165,"v":137,"w":138},
{"l":13,"u":106,"v":139,"w":140},{"l":13,"u":115,"v":134,"w":145},{"l":13,"u":132,"v":132,"w":147},{"l":13,"u":148,"v":133,"w":144},{"l":13,"u":158,"v":137,"w":139},
{"l":15,"u":112,"v":139,"w":140},{"l":15,"u":120,"v":135,"w":144},{"l":15,"u":132,"v":133,"w":146},{"l":15,"u":145,"v":134,"w":143},{"l":15,"u":152,"v":138,"w":139},
{"l":17,"u":118,"v":139,"w":140},{"l":17,"u":125,"v":136,"w":143},{"l":17,"u":133,"v":135,"w":144},{"l":17,"u":142,"v":136,"w":142},{"l":17,"u":147,"v":138,"w":139}],
"fb":[{"l":4,"u":108,"v":137,"w":143},{"l":4,"u":118,"v":131,"w":146},{"l":4,"u":133,"v":128,"w":146},{"l":4,"u":150,"v":128,"w":157},{"l":4,"u":157,"v":128,"w":158},{"l":4,"u":170,"v":127,"w":149},{"l":4,"u":188,"v":127,"w":138},{"l":4,"u":195,"v":132,"w":134},
{"l":7,"u":122,"v":133,"w":143},{"l":7,"u":140,"v":131,"w":149},{"l":7,"u":155,"v":130,"w":155},{"l":7,"u":170,"v":128,"w":147},{"l":7,"u":190,"v":128,"w":136},{"l":7,"u":193,"v":132,"w":134},
{"l":9,"u":132,"v":136,"w":141},{"l":9,"u":145,"v":133,"w":148},{"l":9,"u":157,"v":131,"w":153},{"l":9,"u":170,"v":129,"w":146},{"l":9,"u":190,"v":129,"w":135},{"l":9,"u":192,"v":132,"w":133},
{"l":11,"u":142,"v":137,"w":140},{"l":11,"u":150,"v":134,"w":147},{"l":11,"u":160,"v":132,"w":149},{"l":11,"u":172,"v":129,"w":144},{"l":11,"u":188,"v":129,"w":135},{"l":11,"u":191,"v":132,"w":133},
{"l":13,"u":148,"v":137,"w":142},{"l":13,"u":156,"v":135,"w":144},{"l":13,"u":165,"v":133,"w":144},{"l":13,"u":175,"v":130,"w":142},{"l":13,"u":188,"v":130,"w":135},{"l":13,"u":190,"v":132,"w":133},
{"l":15,"u":165,"v":137,"w":142},{"l":15,"u":172,"v":133,"w":142},{"l":15,"u":180,"v":130,"w":139},{"l":15,"u":188,"v":130,"w":135},{"l":15,"u":190,"v":132,"w":133},
{"l":17,"u":168,"v":138,"w":140},{"l":17,"u":173,"v":134,"w":141},{"l":17,"u":180,"v":131,"w":138},{"l":17,"u":186,"v":131,"w":135}],
"fc":[{"l":4,"u":107,"v":144,"w":146},{"l":4,"u":117,"v":137,"w":149},{"l":4,"u":133,"v":135,"w":151},{"l":4,"u":148,"v":136,"w":160},{"l":4,"u":160,"v":135,"w":157},{"l":4,"u":172,"v":134,"w":146},{"l":4,"u":183,"v":134,"w":135},
{"l":7,"u":140,"v":142,"w":148},{"l":7,"u":150,"v":138,"w":154},{"l":7,"u":160,"v":137,"w":154},{"l":7,"u":172,"v":135,"w":146},{"l":7,"u":182,"v":134,"w":135},
{"l":9,"u":152,"v":142,"w":148},{"l":9,"u":160,"v":138,"w":150},{"l":9,"u":170,"v":135,"w":146},{"l":9,"u":181,"v":134,"w":135},
{"l":11,"u":156,"v":141,"w":150},{"l":11,"u":163,"v":138,"w":149},{"l":11,"u":172,"v":135,"w":144},{"l":11,"u":180,"v":134,"w":136},
{"l":13,"u":158,"v":143,"w":150},{"l":13,"u":165,"v":138,"w":148},{"l":13,"u":173,"v":135,"w":142},{"l":13,"u":180,"v":134,"w":135},
{"l":15,"u":160,"v":144,"w":149},{"l":15,"u":166,"v":140,"w":147},{"l":15,"u":174,"v":136,"w":141},{"l":15,"u":178,"v":135,"w":136},
{"l":17,"u":162,"v":145,"w":148},{"l":17,"u":168,"v":141,"w":146},{"l":17,"u":174,"v":137,"w":140},{"l":17,"u":177,"v":136,"w":137}],
"fd":[{"l":4,"u":137,"v":143,"w":146},{"l":4,"u":146,"v":141,"w":148},{"l":4,"u":153,"v":143,"w":159},{"l":4,"u":160,"v":141,"w":157},{"l":4,"u":170,"v":139,"w":150},{"l":4,"u":182,"v":136,"w":141},{"l":4,"u":194,"v":134,"w":135},
{"l":7,"u":163,"v":144,"w":152},{"l":7,"u":170,"v":140,"w":149},{"l":7,"u":182,"v":136,"w":141},{"l":7,"u":193,"v":134,"w":135},
{"l":9,"u":166,"v":145,"w":152},{"l":9,"u":172,"v":139,"w":148},{"l":9,"u":182,"v":136,"w":141},{"l":9,"u":192,"v":134,"w":135},
{"l":11,"u":167,"v":146,"w":151},{"l":11,"u":173,"v":140,"w":147},{"l":11,"u":182,"v":137,"w":140},{"l":11,"u":191,"v":134,"w":135},
{"l":13,"u":169,"v":146,"w":149},{"l":13,"u":175,"v":141,"w":146},{"l":13,"u":182,"v":137,"w":140},{"l":13,"u":189,"v":135,"w":136},
{"l":15,"u":171,"v":145,"w":148},{"l":15,"u":176,"v":141,"w":145},{"l":15,"u":182,"v":138,"w":140},{"l":15,"u":187,"v":136,"w":137},
{"l":17,"u":173,"v":144,"w":146},{"l":17,"u":178,"v":140,"w":143},{"l":17,"u":184,"v":137,"w":139}],
"fe":[{"l":4,"u":137,"v":165,"w":165},{"l":4,"u":147,"v":155,"w":161},{"l":4,"u":155,"v":149,"w":157},{"l":4,"u":163,"v":144,"w":152},{"l":4,"u":170,"v":139,"w":146},{"l":4,"u":177,"v":137,"w":138},
{"l":7,"u":141,"v":161,"w":163},{"l":7,"u":148,"v":155,"w":160},{"l":7,"u":156,"v":149,"w":156},{"l":7,"u":164,"v":144,"w":150},{"l":7,"u":172,"v":139,"w":143},{"l":7,"u":175,"v":138,"w":139},
{"l":9,"u":145,"v":158,"w":160},{"l":9,"u":150,"v":154,"w":158},{"l":9,"u":157,"v":150,"w":155},{"l":9,"u":165,"v":144,"w":149},{"l":9,"u":172,"v":140,"w":142},
{"l":11,"u":149,"v":155,"w":157},{"l":11,"u":153,"v":152,"w":156},{"l":11,"u":159,"v":148,"w":153},{"l":11,"u":166,"v":144,"w":147},{"l":11,"u":171,"v":141,"w":142},
{"l":13,"u":152,"v":153,"w":155},{"l":13,"u":157,"v":150,"w":153},{"l":13,"u":163,"v":146,"w":150},{"l":13,"u":169,"v":142,"w":144},
{"l":15,"u":155,"v":151,"w":153},{"l":15,"u":160,"v":148,"w":151},{"l":15,"u":166,"v":144,"w":147},
{"l":17,"u":157,"v":150,"w":151},{"l":17,"u":161,"v":148,"w":150},{"l":17,"u":165,"v":145,"w":147}],
"ta":[{"k":"T","t":"MGN-1","u":126,"v":12},{"k":"L","t":"a)","u":0,"v":22},{"k":"D","t":"ΔG (kcal/mol)","u":28,"v":87},{"k":"a","t":"Rg (nm)","u":71,"v":182},{"k":"s","t":"SASA (nm²)","u":212,"v":179},
{"k":"y","t":"0","u":45,"v":35},{"k":"y","t":"-1","u":47,"v":55},{"k":"y","t":"-2","u":48,"v":75},{"k":"y","t":"-3","u":49,"v":94},{"k":"y","t":"-4","u":50,"v":112},{"k":"y","t":"-5","u":51,"v":129},
{"k":"f","t":"6","u":52,"v":149},{"k":"f","t":"5","u":65,"v":155},{"k":"f","t":"4","u":78,"v":162},{"k":"f","t":"3","u":92,"v":168},{"k":"f","t":"2","u":107,"v":178},{"k":"f","t":"1","u":122,"v":184},{"k":"f","t":"60","u":203,"v":142},{"k":"f","t":"80","u":190,"v":151},{"k":"f","t":"100","u":175,"v":162},{"k":"f","t":"120","u":162,"v":173},{"k":"f","t":"140","u":147,"v":187},
{"k":"c","t":"0.000","u":213,"v":29},{"k":"c","t":"-0.948","u":213,"v":48},{"k":"c","t":"-1.896","u":213,"v":67},{"k":"c","t":"-2.844","u":213,"v":87},{"k":"c","t":"-3.792","u":213,"v":106},{"k":"c","t":"-4.740","u":213,"v":124}],
"tb":[{"k":"T","t":"MGN-2","u":142,"v":10},{"k":"L","t":"b)","u":8,"v":20},{"k":"D","t":"ΔG (kcal/mol)","u":38,"v":87},{"k":"a","t":"Rg (nm)","u":82,"v":182},{"k":"s","t":"SASA (nm²)","u":222,"v":177},
{"k":"y","t":"0","u":55,"v":35},{"k":"y","t":"-1","u":57,"v":52},{"k":"y","t":"-2","u":58,"v":69},{"k":"y","t":"-3","u":59,"v":86},{"k":"y","t":"-4","u":60,"v":102},{"k":"y","t":"-5","u":61,"v":117},{"k":"y","t":"-6","u":62,"v":132},
{"k":"f","t":"6","u":62,"v":149},{"k":"f","t":"5","u":76,"v":155},{"k":"f","t":"4","u":88,"v":162},{"k":"f","t":"3","u":103,"v":169},{"k":"f","t":"2","u":117,"v":178},{"k":"f","t":"1","u":133,"v":184},{"k":"f","t":"60","u":214,"v":142},{"k":"f","t":"80","u":201,"v":151},{"k":"f","t":"100","u":186,"v":162},{"k":"f","t":"120","u":172,"v":173},{"k":"f","t":"140","u":157,"v":187},
{"k":"c","t":"0.000","u":224,"v":29},{"k":"c","t":"-1.061","u":224,"v":48},{"k":"c","t":"-2.123","u":224,"v":67},{"k":"c","t":"-3.184","u":224,"v":87},{"k":"c","t":"-4.246","u":224,"v":106},{"k":"c","t":"-5.307","u":224,"v":124}],
"tc":[{"k":"T","t":"MGN-3","u":126,"v":19},{"k":"L","t":"c)","u":0,"v":22},{"k":"D","t":"ΔG (kcal/mol)","u":23,"v":90},{"k":"a","t":"Rg (nm)","u":71,"v":185},{"k":"s","t":"SASA (nm²)","u":212,"v":179},
{"k":"y","t":"0","u":45,"v":38},{"k":"y","t":"-1","u":46,"v":53},{"k":"y","t":"-2","u":47,"v":68},{"k":"y","t":"-3","u":48,"v":82},{"k":"y","t":"-4","u":49,"v":95},{"k":"y","t":"-5","u":50,"v":109},{"k":"y","t":"-6","u":51,"v":122},{"k":"y","t":"-7","u":52,"v":135},
{"k":"f","t":"6","u":52,"v":152},{"k":"f","t":"5","u":65,"v":158},{"k":"f","t":"4","u":78,"v":165},{"k":"f","t":"3","u":92,"v":172},{"k":"f","t":"2","u":107,"v":181},{"k":"f","t":"1","u":122,"v":188},{"k":"f","t":"60","u":204,"v":145},{"k":"f","t":"80","u":190,"v":154},{"k":"f","t":"100","u":175,"v":166},{"k":"f","t":"120","u":162,"v":178},{"k":"f","t":"140","u":147,"v":189},
{"k":"c","t":"0.000","u":213,"v":32},{"k":"c","t":"-1.209","u":213,"v":52},{"k":"c","t":"-2.417","u":213,"v":71},{"k":"c","t":"-3.626","u":213,"v":90},{"k":"c","t":"-4.835","u":213,"v":109},{"k":"c","t":"-6.044","u":213,"v":128}],
"td":[{"k":"T","t":"MGN-4","u":142,"v":19},{"k":"L","t":"d)","u":8,"v":22},{"k":"D","t":"ΔG (kcal/mol)","u":37,"v":90},{"k":"a","t":"Rg (nm)","u":82,"v":185},{"k":"s","t":"SASA (nm²)","u":224,"v":178},
{"k":"y","t":"0","u":55,"v":38},{"k":"y","t":"-1","u":56,"v":53},{"k":"y","t":"-2","u":57,"v":68},{"k":"y","t":"-3","u":58,"v":82},{"k":"y","t":"-4","u":59,"v":95},{"k":"y","t":"-5","u":60,"v":109},{"k":"y","t":"-6","u":61,"v":122},{"k":"y","t":"-7","u":62,"v":135},
{"k":"f","t":"6","u":62,"v":152},{"k":"f","t":"5","u":76,"v":158},{"k":"f","t":"4","u":88,"v":165},{"k":"f","t":"3","u":103,"v":172},{"k":"f","t":"2","u":117,"v":181},{"k":"f","t":"1","u":133,"v":188},{"k":"f","t":"60","u":214,"v":145},{"k":"f","t":"80","u":201,"v":154},{"k":"f","t":"100","u":186,"v":166},{"k":"f","t":"120","u":173,"v":178},{"k":"f","t":"140","u":157,"v":189},
{"k":"c","t":"0.000","u":224,"v":32},{"k":"c","t":"-1.307","u":224,"v":52},{"k":"c","t":"-2.614","u":224,"v":71},{"k":"c","t":"-3.922","u":224,"v":90},{"k":"c","t":"-5.229","u":224,"v":109},{"k":"c","t":"-6.536","u":224,"v":128}],
"te":[{"k":"T","t":"MGN-6","u":126,"v":23},{"k":"L","t":"e)","u":0,"v":27},{"k":"D","t":"ΔG (kcal/mol)","u":27,"v":89},{"k":"a","t":"Rg (nm)","u":71,"v":188},{"k":"s","t":"SASA (nm²)","u":212,"v":180},
{"k":"y","t":"0","u":45,"v":40},{"k":"y","t":"-1","u":46,"v":54},{"k":"y","t":"-2","u":47,"v":68},{"k":"y","t":"-3","u":48,"v":82},{"k":"y","t":"-4","u":49,"v":95},{"k":"y","t":"-5","u":50,"v":107},{"k":"y","t":"-6","u":51,"v":120},{"k":"y","t":"-7","u":52,"v":133},
{"k":"f","t":"6","u":52,"v":154},{"k":"f","t":"5","u":65,"v":160},{"k":"f","t":"4","u":78,"v":168},{"k":"f","t":"3","u":92,"v":174},{"k":"f","t":"2","u":107,"v":183},{"k":"f","t":"1","u":122,"v":191},{"k":"f","t":"60","u":203,"v":147},{"k":"f","t":"80","u":190,"v":157},{"k":"f","t":"100","u":177,"v":168},{"k":"f","t":"120","u":162,"v":179},{"k":"f","t":"140","u":147,"v":192},
{"k":"c","t":"0.000","u":213,"v":36},{"k":"c","t":"-1.376","u":213,"v":54},{"k":"c","t":"-2.752","u":213,"v":73},{"k":"c","t":"-4.128","u":213,"v":93},{"k":"c","t":"-5.504","u":213,"v":112},{"k":"c","t":"-6.879","u":213,"v":131}]
},
"concat":[
{"width":264,"height":200,"encoding":{"x":{"field":"u","type":"quantitative","axis":null,"scale":{"domain":[0,264],"nice":false,"zero":false}},"y":{"field":"v","type":"quantitative","axis":null,"scale":{"domain":[200,0],"nice":false,"zero":false}}},"layer":[
{"data":{"name":"ra"},"mark":{"type":"rule","color":"#8a8a8a","strokeWidth":1.3},"encoding":{"x2":{"field":"p"},"y2":{"field":"q"}}},
{"data":{"name":"da"},"mark":{"type":"rule","strokeWidth":1.2},"encoding":{"y2":{"field":"q"},"color":{"field":"l","type":"ordinal","legend":null}}},
{"data":{"name":"sa"},"mark":{"type":"area","orient":"vertical","strokeWidth":0.6},"encoding":{"y2":{"field":"w"},"color":{"field":"l","type":"ordinal","legend":null,"scale":{"domain":[0,1,2,3,4,5,6,7,8,9,10,11,12,13,14,15,16,17],"range":["#7a0000","#b00000","#b40000","#e00000","#ff0000","#ff2800","#ff6000","#ff9a00","#ffd000","#e8f000","#90e800","#30d800","#00d870","#00e8f0","#0090ff","#2020f0","#5000d0","#6a00a0"]}},"stroke":{"field":"l","type":"ordinal","legend":null,"scale":{"domain":[0,1,2,3,4,5,6,7,8,9,10,11,12,13,14,15,16,17],"range":["#7a0000","#b00000","#b40000","#e00000","#ff0000","#ff2800","#ff6000","#ff9a00","#ffd000","#e8f000","#90e800","#30d800","#00d870","#00e8f0","#0090ff","#2020f0","#5000d0","#6a00a0"]}}}},
{"data":{"name":"xa"},"mark":{"type":"rule","color":"#600000","strokeWidth":1,"opacity":0.3},"encoding":{"y2":{"field":"q"}}},
{"data":{"name":"fa"},"mark":{"type":"area","orient":"vertical","strokeWidth":0.6},"encoding":{"y2":{"field":"w"},"color":{"field":"l","type":"ordinal","legend":null},"stroke":{"field":"l","type":"ordinal","legend":null}}},
{"data":{"name":"cba"},"mark":"rect","encoding":{"x2":{"field":"p"},"y2":{"field":"w"},"color":{"field":"l","type":"ordinal","legend":null}}},
{"data":{"name":"ta"},"transform":[{"filter":"datum.k=='T'"}],"mark":{"type":"text","fontSize":17},"encoding":{"text":{"field":"t"}}},
{"data":{"name":"ta"},"transform":[{"filter":"datum.k=='L'"}],"mark":{"type":"text","fontSize":20,"align":"left"},"encoding":{"text":{"field":"t"}}},
{"data":{"name":"ta"},"transform":[{"filter":"datum.k=='D'"}],"mark":{"type":"text","fontSize":15.5,"angle":270},"encoding":{"text":{"field":"t"}}},
{"data":{"name":"ta"},"transform":[{"filter":"datum.k=='a'"}],"mark":{"type":"text","fontSize":13.5},"encoding":{"text":{"field":"t"}}},
{"data":{"name":"ta"},"transform":[{"filter":"datum.k=='s'"}],"mark":{"type":"text","fontSize":12.5},"encoding":{"text":{"field":"t"}}},
{"data":{"name":"ta"},"transform":[{"filter":"datum.k=='y'"}],"mark":{"type":"text","fontSize":13,"align":"right"},"encoding":{"text":{"field":"t"}}},
{"data":{"name":"ta"},"transform":[{"filter":"datum.k=='f'"}],"mark":{"type":"text","fontSize":12.5},"encoding":{"text":{"field":"t"}}},
{"data":{"name":"ta"},"transform":[{"filter":"datum.k=='c'"}],"mark":{"type":"text","fontSize":13,"align":"left"},"encoding":{"text":{"field":"t"}}}
]},
{"width":264,"height":200,"encoding":{"x":{"field":"u","type":"quantitative","axis":null,"scale":{"domain":[0,264],"nice":false,"zero":false}},"y":{"field":"v","type":"quantitative","axis":null,"scale":{"domain":[200,0],"nice":false,"zero":false}}},"layer":[
{"data":{"name":"rb"},"mark":{"type":"rule","color":"#8a8a8a","strokeWidth":1.3},"encoding":{"x2":{"field":"p"},"y2":{"field":"q"}}},
{"data":{"name":"db"},"mark":{"type":"rule","strokeWidth":1.2},"encoding":{"y2":{"field":"q"},"color":{"field":"l","type":"ordinal","legend":null}}},
{"data":{"name":"sb"},"mark":{"type":"area","orient":"vertical","strokeWidth":0.6},"encoding":{"y2":{"field":"w"},"color":{"field":"l","type":"ordinal","legend":null},"stroke":{"field":"l","type":"ordinal","legend":null}}},
{"data":{"name":"xb"},"mark":{"type":"rule","color":"#600000","strokeWidth":1,"opacity":0.3},"encoding":{"y2":{"field":"q"}}},
{"data":{"name":"fb"},"mark":{"type":"area","orient":"vertical","strokeWidth":0.6},"encoding":{"y2":{"field":"w"},"color":{"field":"l","type":"ordinal","legend":null},"stroke":{"field":"l","type":"ordinal","legend":null}}},
{"data":{"name":"cbb"},"mark":"rect","encoding":{"x2":{"field":"p"},"y2":{"field":"w"},"color":{"field":"l","type":"ordinal","legend":null}}},
{"data":{"name":"tb"},"transform":[{"filter":"datum.k=='T'"}],"mark":{"type":"text","fontSize":17},"encoding":{"text":{"field":"t"}}},
{"data":{"name":"tb"},"transform":[{"filter":"datum.k=='L'"}],"mark":{"type":"text","fontSize":20,"align":"left"},"encoding":{"text":{"field":"t"}}},
{"data":{"name":"tb"},"transform":[{"filter":"datum.k=='D'"}],"mark":{"type":"text","fontSize":15.5,"angle":270},"encoding":{"text":{"field":"t"}}},
{"data":{"name":"tb"},"transform":[{"filter":"datum.k=='a'"}],"mark":{"type":"text","fontSize":13.5},"encoding":{"text":{"field":"t"}}},
{"data":{"name":"tb"},"transform":[{"filter":"datum.k=='s'"}],"mark":{"type":"text","fontSize":12.5},"encoding":{"text":{"field":"t"}}},
{"data":{"name":"tb"},"transform":[{"filter":"datum.k=='y'"}],"mark":{"type":"text","fontSize":13,"align":"right"},"encoding":{"text":{"field":"t"}}},
{"data":{"name":"tb"},"transform":[{"filter":"datum.k=='f'"}],"mark":{"type":"text","fontSize":12.5},"encoding":{"text":{"field":"t"}}},
{"data":{"name":"tb"},"transform":[{"filter":"datum.k=='c'"}],"mark":{"type":"text","fontSize":13,"align":"left"},"encoding":{"text":{"field":"t"}}}
]},
{"width":264,"height":200,"encoding":{"x":{"field":"u","type":"quantitative","axis":null,"scale":{"domain":[0,264],"nice":false,"zero":false}},"y":{"field":"v","type":"quantitative","axis":null,"scale":{"domain":[200,0],"nice":false,"zero":false}}},"layer":[
{"data":{"name":"rc"},"mark":{"type":"rule","color":"#8a8a8a","strokeWidth":1.3},"encoding":{"x2":{"field":"p"},"y2":{"field":"q"}}},
{"data":{"name":"dc"},"mark":{"type":"rule","strokeWidth":1.2},"encoding":{"y2":{"field":"q"},"color":{"field":"l","type":"ordinal","legend":null}}},
{"data":{"name":"sc"},"mark":{"type":"area","orient":"vertical","strokeWidth":0.6},"encoding":{"y2":{"field":"w"},"color":{"field":"l","type":"ordinal","legend":null},"stroke":{"field":"l","type":"ordinal","legend":null}}},
{"data":{"name":"xc"},"mark":{"type":"rule","color":"#600000","strokeWidth":1,"opacity":0.3},"encoding":{"y2":{"field":"q"}}},
{"data":{"name":"fc"},"mark":{"type":"area","orient":"vertical","strokeWidth":0.6},"encoding":{"y2":{"field":"w"},"color":{"field":"l","type":"ordinal","legend":null},"stroke":{"field":"l","type":"ordinal","legend":null}}},
{"data":{"name":"cbc"},"mark":"rect","encoding":{"x2":{"field":"p"},"y2":{"field":"w"},"color":{"field":"l","type":"ordinal","legend":null}}},
{"data":{"name":"tc"},"transform":[{"filter":"datum.k=='T'"}],"mark":{"type":"text","fontSize":17},"encoding":{"text":{"field":"t"}}},
{"data":{"name":"tc"},"transform":[{"filter":"datum.k=='L'"}],"mark":{"type":"text","fontSize":20,"align":"left"},"encoding":{"text":{"field":"t"}}},
{"data":{"name":"tc"},"transform":[{"filter":"datum.k=='D'"}],"mark":{"type":"text","fontSize":15.5,"angle":270},"encoding":{"text":{"field":"t"}}},
{"data":{"name":"tc"},"transform":[{"filter":"datum.k=='a'"}],"mark":{"type":"text","fontSize":13.5},"encoding":{"text":{"field":"t"}}},
{"data":{"name":"tc"},"transform":[{"filter":"datum.k=='s'"}],"mark":{"type":"text","fontSize":12.5},"encoding":{"text":{"field":"t"}}},
{"data":{"name":"tc"},"transform":[{"filter":"datum.k=='y'"}],"mark":{"type":"text","fontSize":13,"align":"right"},"encoding":{"text":{"field":"t"}}},
{"data":{"name":"tc"},"transform":[{"filter":"datum.k=='f'"}],"mark":{"type":"text","fontSize":12.5},"encoding":{"text":{"field":"t"}}},
{"data":{"name":"tc"},"transform":[{"filter":"datum.k=='c'"}],"mark":{"type":"text","fontSize":13,"align":"left"},"encoding":{"text":{"field":"t"}}}
]},
{"width":264,"height":200,"encoding":{"x":{"field":"u","type":"quantitative","axis":null,"scale":{"domain":[0,264],"nice":false,"zero":false}},"y":{"field":"v","type":"quantitative","axis":null,"scale":{"domain":[200,0],"nice":false,"zero":false}}},"layer":[
{"data":{"name":"rd"},"mark":{"type":"rule","color":"#8a8a8a","strokeWidth":1.3},"encoding":{"x2":{"field":"p"},"y2":{"field":"q"}}},
{"data":{"name":"dd"},"mark":{"type":"rule","strokeWidth":1.2},"encoding":{"y2":{"field":"q"},"color":{"field":"l","type":"ordinal","legend":null}}},
{"data":{"name":"sd"},"mark":{"type":"area","orient":"vertical","strokeWidth":0.6},"encoding":{"y2":{"field":"w"},"color":{"field":"l","type":"ordinal","legend":null},"stroke":{"field":"l","type":"ordinal","legend":null}}},
{"data":{"name":"xd"},"mark":{"type":"rule","color":"#600000","strokeWidth":1,"opacity":0.3},"encoding":{"y2":{"field":"q"}}},
{"data":{"name":"fd"},"mark":{"type":"area","orient":"vertical","strokeWidth":0.6},"encoding":{"y2":{"field":"w"},"color":{"field":"l","type":"ordinal","legend":null},"stroke":{"field":"l","type":"ordinal","legend":null}}},
{"data":{"name":"cbd"},"mark":"rect","encoding":{"x2":{"field":"p"},"y2":{"field":"w"},"color":{"field":"l","type":"ordinal","legend":null}}},
{"data":{"name":"td"},"transform":[{"filter":"datum.k=='T'"}],"mark":{"type":"text","fontSize":17},"encoding":{"text":{"field":"t"}}},
{"data":{"name":"td"},"transform":[{"filter":"datum.k=='L'"}],"mark":{"type":"text","fontSize":20,"align":"left"},"encoding":{"text":{"field":"t"}}},
{"data":{"name":"td"},"transform":[{"filter":"datum.k=='D'"}],"mark":{"type":"text","fontSize":15.5,"angle":270},"encoding":{"text":{"field":"t"}}},
{"data":{"name":"td"},"transform":[{"filter":"datum.k=='a'"}],"mark":{"type":"text","fontSize":13.5},"encoding":{"text":{"field":"t"}}},
{"data":{"name":"td"},"transform":[{"filter":"datum.k=='s'"}],"mark":{"type":"text","fontSize":12.5},"encoding":{"text":{"field":"t"}}},
{"data":{"name":"td"},"transform":[{"filter":"datum.k=='y'"}],"mark":{"type":"text","fontSize":13,"align":"right"},"encoding":{"text":{"field":"t"}}},
{"data":{"name":"td"},"transform":[{"filter":"datum.k=='f'"}],"mark":{"type":"text","fontSize":12.5},"encoding":{"text":{"field":"t"}}},
{"data":{"name":"td"},"transform":[{"filter":"datum.k=='c'"}],"mark":{"type":"text","fontSize":13,"align":"left"},"encoding":{"text":{"field":"t"}}}
]},
{"width":264,"height":200,"encoding":{"x":{"field":"u","type":"quantitative","axis":null,"scale":{"domain":[0,264],"nice":false,"zero":false}},"y":{"field":"v","type":"quantitative","axis":null,"scale":{"domain":[200,0],"nice":false,"zero":false}}},"layer":[
{"data":{"name":"re"},"mark":{"type":"rule","color":"#8a8a8a","strokeWidth":1.3},"encoding":{"x2":{"field":"p"},"y2":{"field":"q"}}},
{"data":{"name":"se"},"mark":{"type":"area","orient":"vertical","strokeWidth":0.6},"encoding":{"y2":{"field":"w"},"color":{"field":"l","type":"ordinal","legend":null},"stroke":{"field":"l","type":"ordinal","legend":null}}},
{"data":{"name":"fe"},"mark":{"type":"area","orient":"vertical","strokeWidth":0.6},"encoding":{"y2":{"field":"w"},"color":{"field":"l","type":"ordinal","legend":null},"stroke":{"field":"l","type":"ordinal","legend":null}}},
{"data":{"name":"cbe"},"mark":"rect","encoding":{"x2":{"field":"p"},"y2":{"field":"w"},"color":{"field":"l","type":"ordinal","legend":null}}},
{"data":{"name":"te"},"transform":[{"filter":"datum.k=='T'"}],"mark":{"type":"text","fontSize":17},"encoding":{"text":{"field":"t"}}},
{"data":{"name":"te"},"transform":[{"filter":"datum.k=='L'"}],"mark":{"type":"text","fontSize":20,"align":"left"},"encoding":{"text":{"field":"t"}}},
{"data":{"name":"te"},"transform":[{"filter":"datum.k=='D'"}],"mark":{"type":"text","fontSize":15.5,"angle":270},"encoding":{"text":{"field":"t"}}},
{"data":{"name":"te"},"transform":[{"filter":"datum.k=='a'"}],"mark":{"type":"text","fontSize":13.5},"encoding":{"text":{"field":"t"}}},
{"data":{"name":"te"},"transform":[{"filter":"datum.k=='s'"}],"mark":{"type":"text","fontSize":12.5},"encoding":{"text":{"field":"t"}}},
{"data":{"name":"te"},"transform":[{"filter":"datum.k=='y'"}],"mark":{"type":"text","fontSize":13,"align":"right"},"encoding":{"text":{"field":"t"}}},
{"data":{"name":"te"},"transform":[{"filter":"datum.k=='f'"}],"mark":{"type":"text","fontSize":12.5},"encoding":{"text":{"field":"t"}}},
{"data":{"name":"te"},"transform":[{"filter":"datum.k=='c'"}],"mark":{"type":"text","fontSize":13,"align":"left"},"encoding":{"text":{"field":"t"}}}
]},
{"width":264,"height":200,"data":{"values":[{"m":"MGN-1","g":-4.74,"t":"-4.74","c":"#0000ff"},{"m":"MGN-2","g":-5.307,"t":"-5.307","c":"#00ffff"},{"m":"MGN-3","g":-6.044,"t":"-6.044","c":"#ff00ff"},{"m":"MGN-4","g":-6.536,"t":"-6.536","c":"#ffff00"},{"m":"MGN-6","g":-6.879,"t":"-6.879","c":"#808000"}]},
"encoding":{"y":{"field":"m","type":"nominal","scale":{"domain":["MGN-1","MGN-2","MGN-3","MGN-4","MGN-6"],"range":[37,168],"paddingInner":0.5,"paddingOuter":0.25},"axis":{"orient":"left","offset":-85,"title":null,"tickBand":"extent","domainColor":"#8a8a8a","tickColor":"#8a8a8a","domainWidth":1.3,"tickSize":3,"labelFont":"Liberation Sans","labelFontWeight":"bold","labelFontSize":11,"labelColor":"#000","grid":false,"labelPadding":2}},
"x":{"field":"g","type":"quantitative","scale":{"domain":[-4,-8],"range":[85,248],"nice":false,"zero":false},"axis":{"orient":"bottom","offset":-32,"title":"ΔG (kcal/mol)","values":[-4,-5,-6,-7,-8],"format":"d","grid":false,"domainColor":"#8a8a8a","tickColor":"#8a8a8a","domainWidth":1.3,"tickSize":3,"labelFont":"Liberation Sans","labelFontWeight":"bold","labelFontSize":11,"labelColor":"#000","labelPadding":2,"titleFont":"Liberation Sans","titleFontWeight":"bold","titleFontSize":15,"titleColor":"#000","titlePadding":1}}},
"layer":[
{"mark":{"type":"bar","stroke":"#d8d8f0","strokeWidth":0.6},"encoding":{"x2":{"datum":-4},"color":{"field":"c","type":"nominal","legend":null,"scale":null}}},
{"mark":{"type":"text","align":"left","dx":1,"fontSize":14.5},"encoding":{"text":{"field":"t"}}},
{"data":{"values":[{"t":"f)","m":"MGN-1","g":-2.28}]},"mark":{"type":"text","fontSize":20,"align":"left","dy":-24},"encoding":{"text":{"field":"t"}}}
]}
]}
